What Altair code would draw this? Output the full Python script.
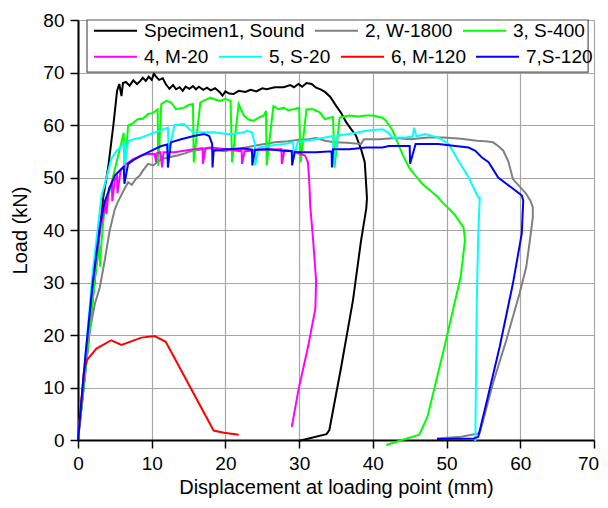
import altair as alt
import pandas as pd

# ---------------- data ----------------
names = ["Specimen1, Sound", "2, W-1800", "3, S-400", "4, M-20", "5, S-20", "6, M-120", "7,S-120"]
colors = ["#000000", "#808080", "#00ff00", "#ff00ff", "#00ffff", "#ff0000", "#0000ff"]

s1_x = [0, 1.5, 3.4, 4.1, 4.8, 5.3, 5.6, 5.9, 6.1, 6.5, 7.0, 7.5, 8.0, 8.4, 8.8, 9.2, 9.6, 10.0, 10.3, 10.6,
        11.0, 11.5, 11.9, 12.4, 12.9, 13.3, 13.8, 14.2, 14.6, 15.1, 15.6, 16.0, 16.4, 17.0, 17.5, 18.0, 18.6,
        19.2, 19.6, 20.0, 20.5, 21.1, 21.8, 22.7, 23.4, 24.2, 25.0, 25.6, 26.7, 27.9, 28.8, 29.3, 29.9, 30.4,
        31.0, 31.7, 32.3, 32.9, 33.5, 34.2, 35.0, 35.7, 36.4, 37.0, 37.7, 38.4, 38.9, 39.1, 39.2, 39.1, 38.4,
        37.3, 35.7, 34.1, 33.7, 29.9]
s1_y = [0, 20, 46, 52, 60, 66.5, 67.8, 65.5, 68.0, 68.2, 67.5, 68.5, 67.8, 68.3, 69.0, 68.4, 69.2, 68.6, 69.8, 69.2,
        68.6, 68.9, 67.8, 66.9, 67.6, 66.8, 67.2, 66.5, 67.3, 66.9, 67.4, 66.8, 67.3, 66.7, 67.1, 66.6, 67.0,
        66.3, 65.6, 66.4, 66.0, 65.9, 66.5, 66.3, 66.7, 66.4, 67.0, 66.8, 67.2, 67.2, 67.6, 67.2, 67.8, 67.3,
        68.0, 67.8, 67.1, 66.8, 66.3, 65.4, 63.7, 62.3, 60.5, 59.3, 58.0, 55.4, 52.9, 48.5, 46.0, 44.0, 38.0,
        26.6, 13.9, 1.9, 1.1, -0.2]

s2_x = [0, 0.8, 1.6, 2.3, 2.96, 3.6, 4.3, 5.0, 5.4, 6.0, 6.8, 7.3, 7.9, 8.4, 8.8, 9.5, 10.2, 11.3, 12.0, 12.8,
        13.5, 14.5, 15.5, 16.6, 17.8, 19.3, 20.0, 21.0, 22.7, 24.5, 26.7, 28.5, 30.0, 31.2, 32.3, 33.5, 34.8,
        36.5, 38.4, 38.8, 41.0, 43.0, 45.1, 47.5, 49.6, 52.0, 54.1, 55.3, 56.3, 57.0, 57.7, 58.4, 59.0, 59.9,
        60.8, 61.4, 61.7, 61.7, 61.3, 60.8, 59.9, 58.1, 56.3, 54.5, 52.0, 48.7]
s2_y = [0, 10, 20.9, 26, 29.1, 34, 39.9, 44.0, 45.3, 47, 49.1, 48.6, 49.8, 50.4, 51.3, 52.6, 52.3, 53.5, 53.7, 54.0,
        54.2, 54.6, 55.1, 55.3, 55.6, 55.1, 55.0, 55.4, 55.7, 56.2, 56.7, 56.9, 57.2, 57.3, 57.5, 57.0, 56.7,
        56.6, 56.4, 57.3, 57.3, 57.5, 57.3, 57.6, 57.6, 57.4, 57.0, 56.9, 56.7, 56.0, 55.1, 53.0, 49.7, 48.3,
        46.9, 45.5, 44.3, 42.4, 38.0, 32.9, 27.9, 19.0, 10.8, 1.3, 0.6, 0.3]

s3_x = [0, 1.5, 2.4, 2.9, 3.0, 3.2, 3.6, 4.3, 5.0, 5.9, 6.2, 6.3, 6.8, 7.4, 8.1, 8.8, 9.5, 10.2, 10.8, 10.9,
        11.3, 12.0, 12.6, 13.3, 14.4, 15.0, 15.6, 15.7, 16.6, 17.3, 18.0, 18.7, 19.3, 20.0, 20.7, 20.9, 21.8,
        22.5, 23.2, 23.8, 24.5, 25.2, 25.5, 25.6, 26.5, 27.2, 27.9, 28.5, 29.2, 30.0, 30.2, 31.0, 31.9, 32.8,
        33.5, 34.1, 34.6, 34.8, 35.5, 36.8, 38.0, 39.1, 40.0, 41.3, 41.8, 42.7, 44.0, 44.9, 46.7, 48.9, 49.2,
        51.0, 52.3, 52.5, 51.9, 49.6, 47.4, 46.3, 41.8]
s3_y = [0, 20, 32, 37, 33, 38, 44, 47.5, 51.6, 56.7, 58.5, 50.7, 59.9, 60.3, 61.1, 61.2, 62.1, 62.3, 63.0, 52.2,
        64.0, 64.6, 64.3, 63.0, 63.3, 63.8, 64.0, 52.9, 64.3, 64.8, 65.2, 64.8, 64.6, 65.0, 64.6, 52.9, 64.0,
        61.8, 61.0, 60.8, 61.4, 61.8, 62.7, 52.3, 63.6, 63.0, 63.3, 62.8, 63.0, 63.3, 52.9, 63.0, 63.0, 62.4,
        61.1, 61.4, 61.5, 51.9, 61.4, 61.8, 61.6, 61.8, 61.8, 61.4, 60.8, 58.9, 54.5, 51.9, 48.8, 46.2, 45.6,
        43.1, 40.5, 38.0, 31.0, 17.1, 4.4, 1.0, -0.95]

s4_x = [0, 1.0, 2.0, 3.0, 3.6, 3.8, 3.85, 4.2, 4.6, 4.65, 5.0, 5.3, 5.35, 5.8, 6.5, 7.5, 8.6, 9.5, 10.4, 10.6,
        10.7, 11.2, 11.4, 11.6, 13.1, 15.7, 16.9, 16.95, 17.3, 18.0, 20.2, 21.0, 22.2, 22.25, 22.6, 25.6, 27.6,
        27.65, 28.0, 28.8, 30.1, 30.8, 31.2, 31.4, 31.5, 31.9, 32.3, 32.2, 31.2, 29.9, 29.0]
s4_y = [0, 15, 30, 40, 44, 46, 43, 48, 49, 45.5, 49.5, 50.2, 47, 51.5, 52.5, 53.5, 54.2, 54.5, 54.5, 52.9,
        54.6, 54.8, 51.9, 54.8, 54.8, 55.4, 55.6, 52.6, 55.6, 55.7, 55.4, 55.2, 55.0, 52.6, 55.0, 55.4, 55.4,
        52.6, 55.2, 55.1, 54.5, 54.2, 52.9, 48.5, 44.7, 38.0, 30.4, 25.0, 17.7, 9.5, 2.5]

s5_x = [0, 1.0, 2.0, 3.2, 3.6, 4.5, 5.2, 5.9, 6.2, 6.3, 6.8, 7.6, 8.6, 9.5, 10.4, 11.3, 12.2, 12.3, 13.1, 14.4,
        15.1, 15.7, 17.0, 18.4, 20.2, 21.1, 22.5, 22.9, 23.6, 24.0, 24.05, 24.5, 25.6, 27.9, 29.2, 29.25, 29.8,
        32.3, 34.6, 34.65, 35.2, 36.8, 39.1, 41.3, 42.0, 42.7, 44.5, 45.4, 45.6, 45.9, 47.1, 48.9, 50.3, 51.6,
        53.0, 54.3, 54.5, 54.3, 54.1, 53.9]
s5_y = [0, 16, 32, 46.6, 48.5, 53.5, 55.0, 56.0, 56.5, 52.2, 57.0, 57.3, 57.6, 58.1, 58.6, 59.0, 59.5, 54.8, 60.0,
        60.2, 59.2, 58.6, 58.6, 58.6, 58.3, 58.3, 58.6, 58.9, 58.6, 56.4, 52.3, 55.7, 56.0, 56.4, 56.7, 53.5,
        56.8, 57.3, 57.9, 52.3, 58.0, 58.3, 58.9, 59.2, 58.6, 57.6, 57.6, 57.8, 59.5, 57.8, 58.3, 57.6, 56.4,
        53.2, 50.0, 46.2, 46.2, 39.3, 26.6, -0.2]

s6_x = [0, 0.3, 0.8, 1.2, 2.5, 4.5, 5.9, 8.6, 10.4, 11.9, 18.4, 19.8, 21.8]
s6_y = [0, 5, 13, 15.2, 17.4, 19.0, 18.1, 19.5, 19.8, 18.7, 1.8, 1.4, 1.0]

s7_x = [0, 1.0, 2.0, 3.0, 3.6, 4.3, 5.0, 5.9, 6.2, 6.3, 6.8, 7.5, 8.1, 8.8, 9.5, 10.4, 11.3, 12.1, 12.2, 12.6,
        14.0, 15.7, 17.1, 17.8, 18.2, 18.25, 18.4, 20.2, 22.5, 23.6, 23.65, 24.0, 25.6, 27.9, 29.0, 29.05, 29.4,
        30.1, 32.3, 34.4, 34.45, 34.6, 36.8, 39.1, 41.3, 42.2, 44.5, 45.0, 45.05, 45.8, 48.9, 51.2, 53.0, 53.9,
        54.8, 55.7, 57.0, 58.8, 60.2, 60.4, 60.2, 59.0, 57.2, 55.5, 54.3, 53.7, 48.7]
s7_y = [0, 16, 30, 41, 45.3, 48, 50.4, 51.6, 52, 48.8, 52.6, 53.3, 53.8, 54.3, 54.8, 55.4, 56.0, 56.3, 51.9, 56.7,
        57.3, 57.9, 58.3, 57.9, 56.4, 51.9, 55.1, 55.4, 55.5, 55.3, 52.3, 55.3, 55.4, 55.1, 55.0, 52.3, 54.9,
        54.8, 54.8, 55.0, 51.9, 55.4, 55.4, 55.7, 55.7, 56.0, 56.0, 56.0, 52.6, 56.4, 56.4, 56.0, 55.7, 55.1,
        53.8, 52.9, 50.0, 48.1, 46.6, 45.6, 39.3, 29.8, 17.7, 7.6, 0.6, 0.3, 0.2]

# legend frame corners (data units)
box_x = [1.22, 69.2]
box_y = [80.0, 70.06]

xs = [s1_x, s2_x, s3_x, s4_x, s5_x, s6_x, s7_x]
ys = [s1_y, s2_y, s3_y, s4_y, s5_y, s6_y, s7_y]

rows = []
for name, sx, sy in zip(names, xs, ys):
    n = min(len(sx), len(sy))
    for i in range(n):
        rows.append({"series": name, "x": sx[i], "y": sy[i], "i": i})
df = pd.DataFrame(rows)

FONT = "Liberation Sans"
major = "datum.value % 10 === 0"

x_axis = alt.Axis(
    title="Displacement at loading point (mm)",
    values=list(range(0, 71, 5)),
    labelExpr="datum.value % 10 === 0 ? datum.label : ''",
    labelOffset={"condition": {"test": "datum.value === 70", "value": -6}, "value": 0},
    grid=True,
    gridColor={"condition": {"test": major, "value": "#a6a6a6"}, "value": "#cfcfcf"},
    gridDash={"condition": {"test": major, "value": []}, "value": [3, 3]},
    gridWidth=1.2,
    tickSize={"condition": {"test": major, "value": 8}, "value": 5},
    tickColor="black", tickWidth=1.5,
    domainColor="black", domainWidth=2,
    labelFontSize=19, labelFont=FONT, labelColor="black", labelPadding=6,
    titleFontSize=20, titleFont=FONT, titleFontWeight="normal", titleColor="black", titlePadding=4,
    labelFlush=False,
)
y_axis = alt.Axis(
    title="Load (kN)",
    values=list(range(0, 81, 5)),
    labelExpr="datum.value % 10 === 0 ? datum.label : ''",
    grid=True,
    gridColor={"condition": {"test": major, "value": "#a6a6a6"}, "value": "#cfcfcf"},
    gridDash={"condition": {"test": major, "value": []}, "value": [3, 3]},
    gridWidth=1.2,
    tickSize={"condition": {"test": major, "value": 8}, "value": 5},
    tickColor="black", tickWidth=1.5,
    domainColor="black", domainWidth=2,
    labelFontSize=19, labelFont=FONT, labelColor="black", labelPadding=6,
    titleFontSize=20, titleFont=FONT, titleFontWeight="normal", titleColor="black", titlePadding=12,
    labelFlush=False,
)

xscale = alt.Scale(domain=[0, 70], nice=False, zero=False)
yscale = alt.Scale(domain=[0, 80], nice=False, zero=False)
xs_enc = alt.X("x:Q", scale=xscale, axis=x_axis)
ys_enc = alt.Y("y:Q", scale=yscale, axis=y_axis)

def legend(y):
    return alt.Legend(
        title=None, orient="none", legendX=15, legendY=y, direction="horizontal",
        symbolType="stroke", symbolSize=1849, symbolStrokeWidth=2,
        labelFontSize=19, labelFont=FONT, labelColor="black", labelLimit=400,
        labelOffset=6, columnPadding=6, padding=0, rowPadding=0,
    )

g1, g2 = names[:3], names[3:]
c1, c2 = colors[:3], colors[3:]

box_df = pd.DataFrame({"x": [box_x[0]], "x2": [box_x[1]], "y": [box_y[0]], "y2": [box_y[1]]})
box = alt.Chart(box_df).mark_rect(
    fill="white", stroke="#555555", strokeWidth=1.2
).encode(x=alt.X("x:Q", scale=xscale), x2="x2:Q", y=alt.Y("y:Q", scale=yscale), y2="y2:Q")

lines1 = alt.Chart(df).transform_filter(
    alt.FieldOneOfPredicate(field="series", oneOf=g1)
).mark_line(strokeWidth=2).encode(
    x=xs_enc, y=ys_enc, order="i:Q",
    color=alt.Color("series:N", scale=alt.Scale(domain=g1, range=c1), legend=legend(-12)),
)
lines2 = alt.Chart(df).transform_filter(
    alt.FieldOneOfPredicate(field="series", oneOf=g2)
).mark_line(strokeWidth=2).encode(
    x=xs_enc, y=ys_enc, order="i:Q",
    color=alt.Color("series:N", scale=alt.Scale(domain=g2, range=c2), legend=legend(14)),
)

chart = alt.layer(lines1, lines2, box).resolve_scale(color="independent").properties(
    width=516, height=420,
    autosize=alt.AutoSizeParams(type="none"),
    padding={"left": 70, "top": 12, "right": 6, "bottom": 60},
).configure_view(stroke="black", strokeWidth=1.5).configure(background="white")

chart.save("out.html", embed_options={"renderer": "svg", "actions": False})
